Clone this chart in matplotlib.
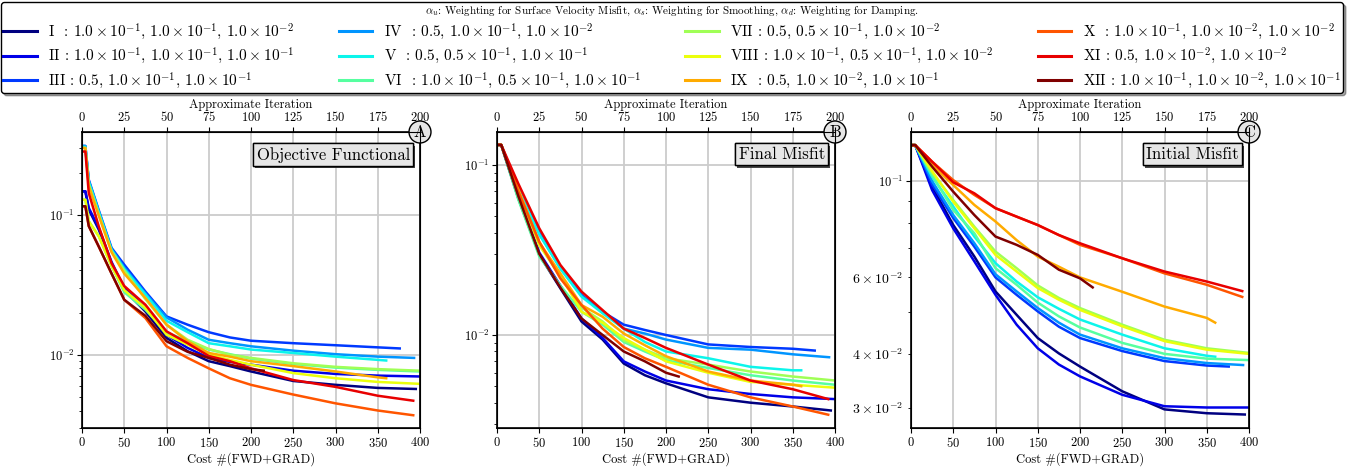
import numpy as np
import matplotlib
matplotlib.use("Agg")
import matplotlib.pyplot as plt
import matplotlib.patheffects as pe

plt.rcParams['font.family'] = 'serif'
plt.rcParams['font.serif'] = ['cmr10', 'DejaVu Serif']
plt.rcParams['mathtext.fontset'] = 'cm'
plt.rcParams['axes.formatter.use_mathtext'] = True
plt.rcParams['axes.unicode_minus'] = False

# legend text for the twelve runs
run_labels = [
    r'I  : $1.0\times10^{-1}$, $1.0\times10^{-1}$, $1.0\times10^{-2}$',
    r'II : $1.0\times10^{-1}$, $1.0\times10^{-1}$, $1.0\times10^{-1}$',
    r'III : $0.5$, $1.0\times10^{-1}$, $1.0\times10^{-1}$',
    r'IV  : $0.5$, $1.0\times10^{-1}$, $1.0\times10^{-2}$',
    r'V  : $0.5$, $0.5\times10^{-1}$, $1.0\times10^{-1}$',
    r'VI  : $1.0\times10^{-1}$, $0.5\times10^{-1}$, $1.0\times10^{-1}$',
    r'VII : $0.5$, $0.5\times10^{-1}$, $1.0\times10^{-2}$',
    r'VIII : $1.0\times10^{-1}$, $0.5\times10^{-1}$, $1.0\times10^{-2}$',
    r'IX  : $0.5$, $1.0\times10^{-2}$, $1.0\times10^{-1}$',
    r'X  : $1.0\times10^{-1}$, $1.0\times10^{-2}$, $1.0\times10^{-2}$',
    r'XI : $0.5$, $1.0\times10^{-2}$, $1.0\times10^{-2}$',
    r'XII : $1.0\times10^{-1}$, $1.0\times10^{-2}$, $1.0\times10^{-1}$',
]
legend_title = (r'$\alpha_u$: Weighting for Surface Velocity Misfit, '
                r'$\alpha_s$: Weighting for Smoothing, $\alpha_d$: Weighting for Damping.')

# last cost value of every run
run_end = [395, 400, 376, 393, 360, 400, 400, 400, 360, 392, 392, 215]

# cost values where the curves were read (the run end is appended)
cost_A = [0, 4, 8, 20, 35, 50, 75, 100, 125, 150, 175, 200, 250, 300, 350]
cost_BC = [0, 5, 25, 50, 75, 100, 125, 150, 175, 200, 250, 300, 350]

# A: objective functional
obj_I = [0.147, 0.147, 0.109, 0.078, 0.045, 0.029, 0.0204, 0.0132, 0.0106, 0.0090, 0.0083, 0.0076, 0.0065, 0.0061, 0.0058, 0.0057]
obj_II = [0.147, 0.147, 0.112, 0.080, 0.046, 0.030, 0.0216, 0.0139, 0.0112, 0.0095, 0.0089, 0.0085, 0.0077, 0.0073, 0.0071, 0.0070]
obj_III = [0.31, 0.31, 0.178, 0.107, 0.058, 0.044, 0.0283, 0.0188, 0.0164, 0.0145, 0.0133, 0.0126, 0.0121, 0.0117, 0.0113, 0.0111]
obj_IV = [0.31, 0.31, 0.175, 0.105, 0.057, 0.042, 0.0275, 0.0185, 0.0151, 0.0128, 0.0121, 0.0115, 0.0107, 0.0101, 0.0097, 0.0095]
obj_V = [0.305, 0.305, 0.172, 0.104, 0.056, 0.041, 0.027, 0.0175, 0.0145, 0.0121, 0.0115, 0.0109, 0.0103, 0.0097, 0.0092, 0.0091]
obj_VI = [0.128, 0.128, 0.090, 0.070, 0.043, 0.028, 0.021, 0.0145, 0.0125, 0.0109, 0.0101, 0.0094, 0.0086, 0.0081, 0.0078, 0.0076]
obj_VII = [0.30, 0.30, 0.165, 0.100, 0.055, 0.040, 0.025, 0.0164, 0.0128, 0.0110, 0.0100, 0.0095, 0.0087, 0.0082, 0.0079, 0.0077]
obj_VIII = [0.128, 0.128, 0.090, 0.070, 0.043, 0.029, 0.0216, 0.0139, 0.0118, 0.0100, 0.0092, 0.0085, 0.0074, 0.0068, 0.0064, 0.0062]
obj_IX = [0.30, 0.30, 0.160, 0.098, 0.054, 0.038, 0.0255, 0.0164, 0.0125, 0.0103, 0.0097, 0.0090, 0.0083, 0.0076, 0.0069, 0.0068]
obj_X = [0.115, 0.115, 0.083, 0.059, 0.038, 0.0247, 0.0183, 0.0115, 0.0095, 0.0080, 0.0068, 0.0061, 0.0052, 0.0045, 0.0040, 0.0037]
obj_XI = [0.283, 0.283, 0.143, 0.082, 0.045, 0.031, 0.0228, 0.0147, 0.0121, 0.0098, 0.0090, 0.0080, 0.0066, 0.0059, 0.0051, 0.0047]
obj_XII = [0.115, 0.115, 0.083, 0.059, 0.038, 0.0247, 0.019, 0.0125, 0.0105, 0.0095, 0.0085, 0.0079, 0.0077]

# B: final misfit
fin_I = [0.131, 0.131, 0.064, 0.0296, 0.0188, 0.0120, 0.0094, 0.0068, 0.0058, 0.0052, 0.0043, 0.0040, 0.0038, 0.0036]
fin_II = [0.131, 0.131, 0.065, 0.0305, 0.0195, 0.0125, 0.0096, 0.0070, 0.0061, 0.0054, 0.0048, 0.0045, 0.0043, 0.0042]
fin_III = [0.131, 0.131, 0.072, 0.040, 0.0250, 0.0172, 0.0137, 0.0115, 0.0107, 0.0100, 0.0088, 0.0085, 0.0083, 0.0081]
fin_IV = [0.131, 0.131, 0.072, 0.0395, 0.0247, 0.0170, 0.0137, 0.0109, 0.0102, 0.0094, 0.0084, 0.0082, 0.0077, 0.0074]
fin_V = [0.131, 0.131, 0.072, 0.039, 0.0245, 0.0168, 0.0134, 0.0109, 0.0091, 0.0080, 0.0073, 0.0065, 0.0062, 0.0062]
fin_VI = [0.131, 0.131, 0.063, 0.0290, 0.0195, 0.0137, 0.0115, 0.0091, 0.0080, 0.0071, 0.0064, 0.0058, 0.0054, 0.0051]
fin_VII = [0.131, 0.131, 0.068, 0.034, 0.022, 0.0145, 0.0120, 0.0093, 0.0082, 0.0073, 0.0067, 0.0061, 0.0057, 0.0054]
fin_VIII = [0.131, 0.131, 0.072, 0.0338, 0.0225, 0.0137, 0.0118, 0.0096, 0.0082, 0.0070, 0.0060, 0.0053, 0.0051, 0.0049]
fin_IX = [0.131, 0.131, 0.072, 0.035, 0.023, 0.0150, 0.0128, 0.0102, 0.0087, 0.0075, 0.0061, 0.0054, 0.0051, 0.0050]
fin_X = [0.131, 0.131, 0.070, 0.0354, 0.0215, 0.0150, 0.0109, 0.0085, 0.0073, 0.0065, 0.0051, 0.0043, 0.0038, 0.0034]
fin_XI = [0.131, 0.131, 0.078, 0.0424, 0.0258, 0.0180, 0.0140, 0.0109, 0.0096, 0.0084, 0.0067, 0.0054, 0.0048, 0.0042]
fin_XII = [0.131, 0.131, 0.066, 0.0300, 0.0190, 0.0125, 0.0100, 0.0080, 0.0070, 0.0060, 0.0057]

# C: initial misfit
ini_I = [0.121, 0.121, 0.0971, 0.0792, 0.0670, 0.0557, 0.0492, 0.0435, 0.0401, 0.0374, 0.0328, 0.0298, 0.0292, 0.0290]
ini_II = [0.121, 0.121, 0.0953, 0.0778, 0.0653, 0.0547, 0.0467, 0.0412, 0.0378, 0.0355, 0.0322, 0.0303, 0.0301, 0.0301]
ini_III = [0.121, 0.121, 0.0982, 0.0822, 0.0706, 0.0600, 0.0547, 0.0501, 0.0462, 0.0435, 0.0406, 0.0385, 0.0376, 0.0374]
ini_IV = [0.121, 0.121, 0.1000, 0.0835, 0.0719, 0.0610, 0.0557, 0.0510, 0.0472, 0.0443, 0.0412, 0.0391, 0.0381, 0.0377]
ini_V = [0.121, 0.121, 0.1023, 0.0874, 0.0745, 0.0647, 0.0587, 0.0540, 0.0508, 0.0480, 0.0443, 0.0412, 0.0396, 0.0394]
ini_VI = [0.121, 0.121, 0.1032, 0.0858, 0.0758, 0.0630, 0.0577, 0.0525, 0.0488, 0.0460, 0.0424, 0.0400, 0.0390, 0.0387]
ini_VII = [0.121, 0.121, 0.1047, 0.0904, 0.0785, 0.0688, 0.0630, 0.0575, 0.0538, 0.0510, 0.0467, 0.0431, 0.0412, 0.0402]
ini_VIII = [0.121, 0.121, 0.1054, 0.0896, 0.0778, 0.0676, 0.0619, 0.0567, 0.0533, 0.0505, 0.0463, 0.0428, 0.0409, 0.0400]
ini_IX = [0.121, 0.121, 0.1088, 0.0979, 0.0881, 0.0807, 0.0731, 0.0670, 0.0635, 0.0600, 0.0556, 0.0514, 0.0484, 0.0472]
ini_X = [0.121, 0.121, 0.1108, 0.1005, 0.0929, 0.0866, 0.0828, 0.0792, 0.0751, 0.0713, 0.0664, 0.0613, 0.0577, 0.0541]
ini_XI = [0.121, 0.121, 0.1108, 0.0993, 0.0937, 0.0866, 0.0828, 0.0792, 0.0751, 0.0719, 0.0664, 0.0619, 0.0587, 0.0558]
ini_XII = [0.121, 0.121, 0.1079, 0.0945, 0.0835, 0.0745, 0.0713, 0.0676, 0.0625, 0.0597, 0.0569]

obj = [obj_I, obj_II, obj_III, obj_IV, obj_V, obj_VI, obj_VII, obj_VIII, obj_IX, obj_X, obj_XI, obj_XII]
fin = [fin_I, fin_II, fin_III, fin_IV, fin_V, fin_VI, fin_VII, fin_VIII, fin_IX, fin_X, fin_XI, fin_XII]
ini = [ini_I, ini_II, ini_III, ini_IV, ini_V, ini_VI, ini_VII, ini_VIII, ini_IX, ini_X, ini_XI, ini_XII]

panels = [('A', 'Objective Functional', obj, cost_A, (3.0e-3, 0.39)),
          ('B', 'Final Misfit', fin, cost_BC, (2.84e-3, 0.156)),
          ('C', 'Initial Misfit', ini, cost_BC, (0.027, 0.1297))]
lefts = [82, 497, 911]

colors = plt.cm.jet(np.linspace(0, 1, 12))

fig = plt.figure(figsize=(13.47, 4.72), dpi=100)
W, H = 1347., 472.

for (tag, title, data, knots, ylim), left in zip(panels, lefts):
    ax = fig.add_axes([left / W, 44 / H, 338 / W, 296 / H])
    for k in range(12):
        xs = [c for c in knots if c < run_end[k]] + [run_end[k]]
        ax.semilogy(xs, data[k], color=colors[k], lw=1.8, label=run_labels[k])
    ax.set_xlim(0, 400)
    ax.set_ylim(*ylim)
    ax.set_xticks(np.arange(0, 401, 50))
    ax.set_xlabel('Cost #(FWD+GRAD)', fontsize=9, labelpad=2)
    ax.grid(True, which='major', color='0.8', lw=1.3)
    ax.set_axisbelow(True)
    ax.tick_params(labelsize=9, pad=2)
    for s in ax.spines.values():
        s.set_linewidth(1.2)

    top = ax.twiny()
    top.set_xlim(0, 200)
    top.set_xticks(np.arange(0, 201, 25))
    top.set_xlabel('Approximate Iteration', fontsize=9, labelpad=2)
    top.tick_params(labelsize=9, pad=2)

    t = ax.text(0.97, 0.95, title, transform=ax.transAxes, ha='right', va='top', fontsize=12,
                bbox=dict(boxstyle='square,pad=0.2', fc='0.9', ec='k', lw=1.0), zorder=5)
    t.get_bbox_patch().set_path_effects([pe.withSimplePatchShadow(offset=(1.5, -1.5), shadow_rgbFace='0.2', alpha=0.9), pe.Normal()])
    ax.text(1.0, 1.0, tag, transform=ax.transAxes, ha='center', va='center', fontsize=12, clip_on=False,
            bbox=dict(boxstyle='circle,pad=0.2', fc='0.9', ec='k', lw=1.0), zorder=6)

    if tag == 'A':
        handles, labels = ax.get_legend_handles_labels()

leg = fig.legend(handles, labels, loc='upper left', bbox_to_anchor=(1 / W, 0.0, 1342 / W, 1 - 2 / H),
                 mode='expand', ncol=4, fontsize=11, title=legend_title, title_fontsize=8,
                 handlelength=2.2, handletextpad=0.75, labelspacing=0.27, borderaxespad=0,
                 borderpad=0.15, fancybox=True, edgecolor='k', framealpha=1, shadow=True)
leg.get_frame().set_linewidth(1.0)
for h in leg.legend_handles:
    h.set_linewidth(2.2)

fig.savefig('out.png', dpi=100)
